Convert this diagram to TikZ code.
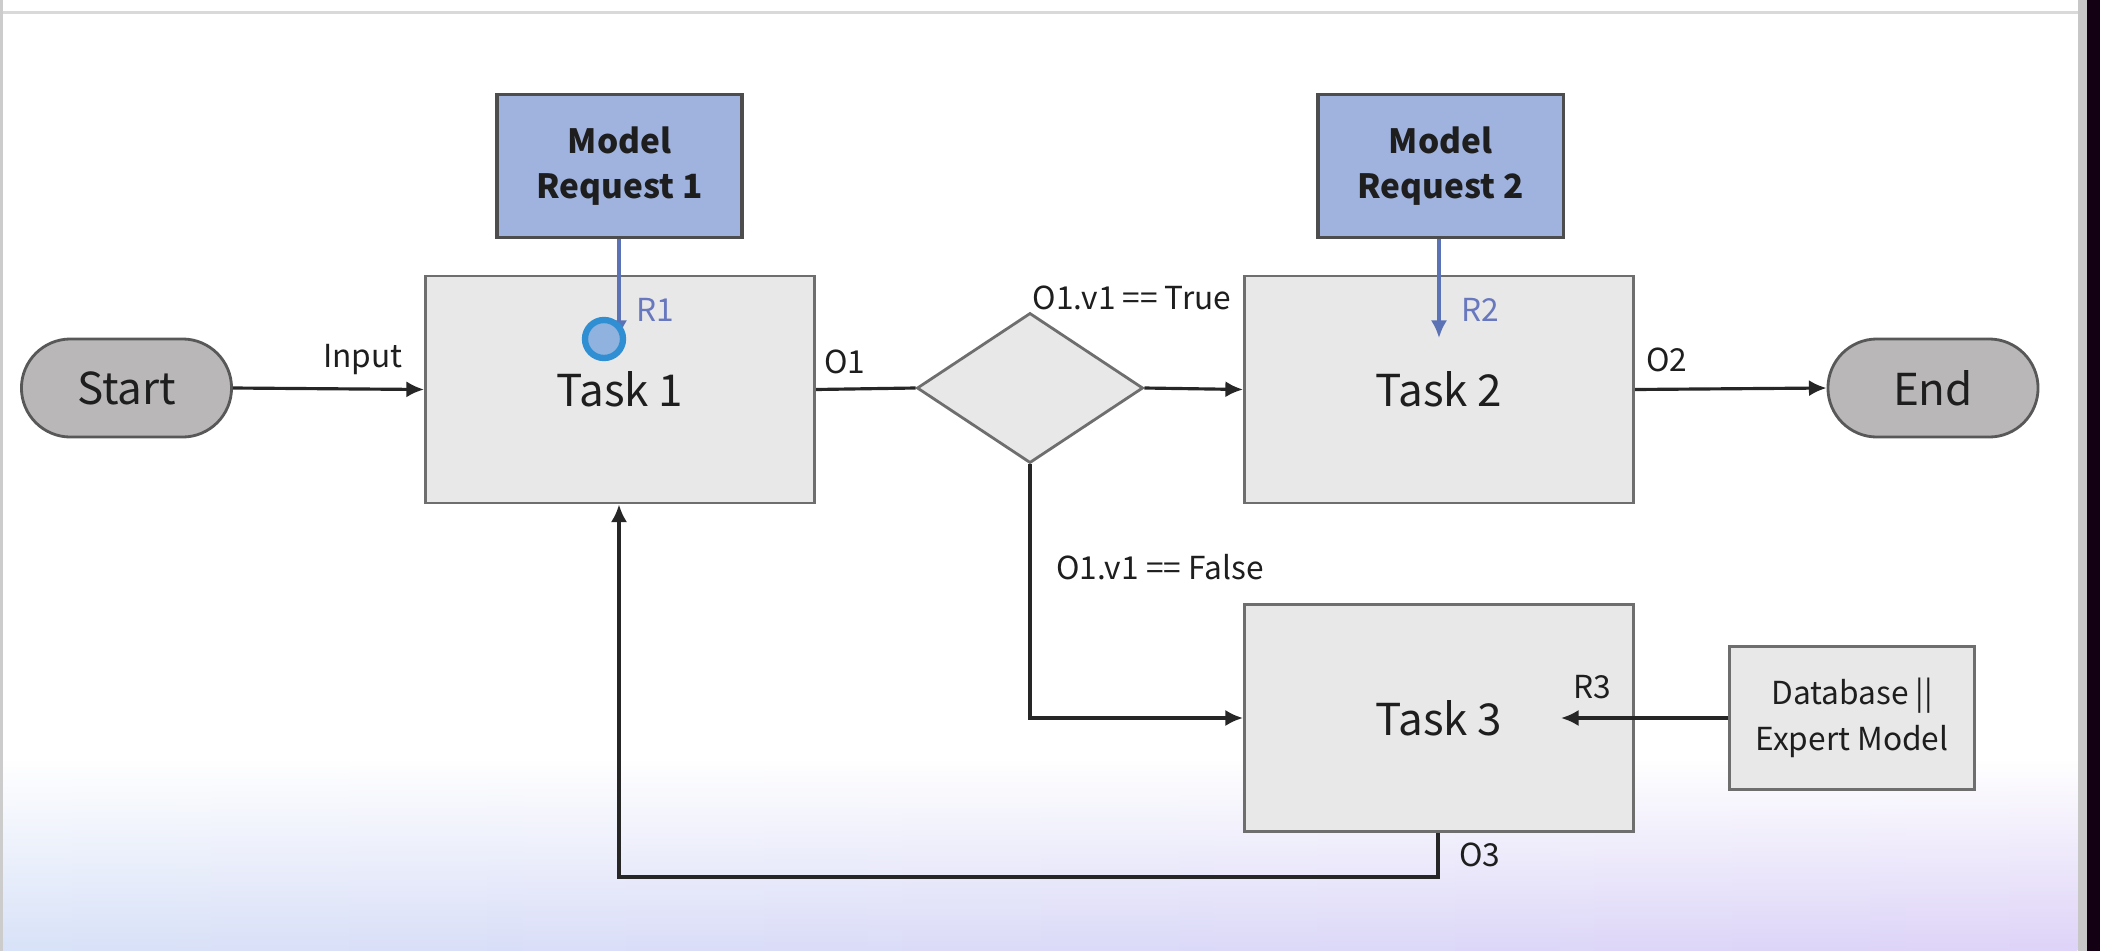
\documentclass[tikz,border=0pt]{standalone}
\usepackage{fontspec}
\setmainfont{Noto Sans CJK SC}
\usetikzlibrary{shapes.geometric,arrows.meta,calc,fadings}
\definecolor{mrfill}{HTML}{A0B3DE}
\definecolor{taskfill}{HTML}{E8E8E8}
\definecolor{termfill}{HTML}{B9B7B7}
\definecolor{edgegray}{HTML}{6E6E6E}
\definecolor{bluelink}{HTML}{5B72B5}
\definecolor{bluetext}{HTML}{6878BE}
\definecolor{txt}{HTML}{1E1E1E}
\definecolor{bgblue}{HTML}{D8E2F8}
\definecolor{bglav}{HTML}{DED3F8}
\definecolor{cursorfill}{HTML}{8FB2DE}
\definecolor{cursoredge}{HTML}{2F8FD2}
\tikzset{
  mrbox/.style={draw=edgegray!70!black, line width=0.9pt, fill=mrfill, minimum width=2.45cm, minimum height=1.43cm, inner sep=0pt, align=center, font=\fontsize{9.5}{13}\selectfont\bfseries, text=txt},
  taskbox/.style={draw=edgegray, line width=0.8pt, fill=taskfill, minimum width=3.89cm, minimum height=2.27cm, inner sep=0pt, font=\fontsize{12.5}{15}\selectfont, text=txt},
  dbbox/.style={draw=edgegray, line width=0.8pt, fill=taskfill, minimum width=2.45cm, minimum height=1.43cm, inner sep=0pt, align=center, font=\fontsize{9}{13}\selectfont, text=txt},
  term/.style={draw=edgegray!80!black, line width=0.8pt, fill=termfill, rectangle, rounded corners=0.49cm, minimum width=2.1cm, minimum height=0.98cm, inner sep=0pt, font=\fontsize{12.5}{15}\selectfont, text=txt},
  decision/.style={diamond, draw=edgegray, line width=0.8pt, fill=taskfill, minimum width=2.26cm, minimum height=1.5cm, inner sep=0pt},
  flow/.style={line width=0.9pt, draw=black!85},
  arr/.style={flow, -{Latex[length=5pt,width=4.6pt]}},
  barr/.style={line width=0.9pt, draw=bluelink, -{Latex[length=5pt,width=4.6pt]}},
  lbl/.style={font=\fontsize{9}{11}\selectfont, text=txt, inner sep=0pt},
  blbl/.style={font=\fontsize{9}{11}\selectfont, text=bluetext, inner sep=0pt},
}
\begin{document}
\begin{tikzpicture}[x=0.01cm,y=-0.01cm]
\useasboundingbox (0,0) rectangle (2114,951);
% background
\fill[white] (0,0) rectangle (2114,951);
\shade[left color=bgblue, right color=bglav, path fading=north] (4,760) rectangle (2080,951);
% screen frame
\fill[black!15] (0,11) rectangle (2080,14);
\fill[black!20] (0,0) rectangle (3,951);
\fill[black!22] (2078,0) rectangle (2087,951);
\fill[black!85!violet] (2087,0) rectangle (2100,951);

% nodes
\node[mrbox] (mr1) at (619.5,166) {Model\\Request 1};
\node[mrbox] (mr2) at (1440.5,166) {Model\\Request 2};
\node[taskbox] (t1) at (620,389.5) {Task 1};
\node[taskbox] (t2) at (1439,389.5) {Task 2};
\node[taskbox] (t3) at (1439,718) {Task 3};
\node[dbbox] (db) at (1852,718) {Database ||\\Expert Model};
\node[term] (start) at (126.5,388) {Start};
\node[term] (end) at (1933,388) {End};
\node[decision] (dia) at (1030,388) {};

% coordinates
\coordinate (r1end) at (619,338);
\coordinate (r2end) at (1439,338);
\coordinate (fbend) at (1030,718);
\coordinate (r3end) at (1561,718);
\coordinate (o3a) at (1438,877);
\coordinate (o3b) at (619,877);

% connectors
\draw[arr] (start.east) -- (t1.west);
\draw[flow] (t1.east) -- (dia.west);
\draw[arr] (dia.east) -- (t2.west);
\draw[arr] (t2.east) -- (end.west);
\draw[arr] (dia.south) -- (fbend) -- (t3.west);
\draw[arr] (db.west) -- (r3end);
\draw[arr] (t3.south -| o3a) -- (o3a) -- (o3b) -- (t1.south -| o3b);
\draw[barr] (mr1.south -| r1end) -- (r1end);
\draw[barr] (mr2.south -| r2end) -- (r2end);

% cursor highlight
\node[circle, draw=cursoredge, line width=1.8pt, fill=cursorfill, minimum size=0.38cm, inner sep=0pt] (cursor) at (604,339) {};

% labels
\node[lbl] (linput) at (363,360) {Input};
\node[lbl] (lo1) at (845,362) {O1};
\node[lbl] (ltrue) at (1132,298) {O1.v1 == True};
\node[lbl] (lfalse) at (1160,567) {O1.v1 == False};
\node[lbl] (lo2) at (1667,360) {O2};
\node[lbl] (lr3) at (1592,687) {R3};
\node[lbl] (lo3) at (1480,855) {O3};
\node[blbl] (lr1) at (655,310) {R1};
\node[blbl] (lr2) at (1480,310) {R2};
\end{tikzpicture}
\end{document}
